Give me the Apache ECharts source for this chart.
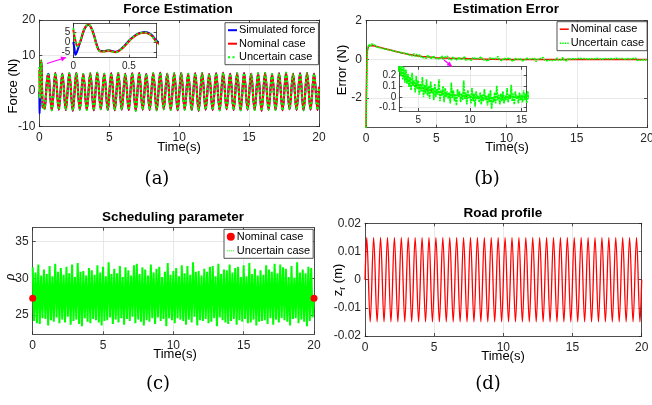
<!DOCTYPE html>
<html><head><meta charset="utf-8">
<script src="https://cdn.jsdelivr.net/npm/echarts@6/dist/echarts.min.js"></script>
<style>html,body{margin:0;padding:0;background:#fff}#c{width:652px;height:405px}</style>
</head><body><div id="c"></div>
<script>
// ---------------- DATA ----------------
// (a) Force estimation: early transient (detailed), seconds
const forceHeadT   = [0, 0.01, 0.02, 0.035, 0.05, 0.07, 0.1, 0.135, 0.16, 0.19, 0.21, 0.24, 0.28, 0.315, 0.35, 0.38, 0.42, 0.47, 0.52, 0.57, 0.61, 0.645, 0.68, 0.71, 0.75];
const forceSimHead = [0, -3, -6.3, -4.5, -2, 1.2, 6.3, 8.5, 7.2, 2.8, -1.2, -4.3, -4.4, -4.0, -4.4, -4.8, -3.8, -1.2, 1.8, 3.8, 4.6, 4.9, 4.4, 3.2, 0.6];
const forceNomHead = [6, 3, 0.5, -1.8, -1.5, 1.5, 6.5, 8.6, 7, 2.5, -1.5, -4.5, -4.6, -4.2, -4.6, -5, -4, -1.5, 1.5, 3.5, 4.4, 4.6, 4, 2.8, 0];
const forceUncHead = [6.8, 3.4, 0.3, -2, -1.4, 1.7, 6.6, 8.7, 7.1, 2.4, -1.6, -4.4, -4.7, -4.1, -4.7, -5.1, -3.9, -1.4, 1.6, 3.6, 4.5, 4.7, 4.1, 2.7, 0.1];
// steady oscillation extremes (troughs / peaks), sampled every half period
const forceSteadyStart = 0.895;
const forceSteadyStep = 0.25;
const forceSteady = [
  -5.4, 5.1, -5.2, 4.9, -5.3, 5.0, -5.5, 5.1, -5.2, 4.8,
  -5.3, 5.0, -5.4, 5.2, -5.1, 4.9, -5.3, 5.0, -5.4, 5.1,
  -5.2, 4.9, -5.3, 5.0, -5.5, 5.1, -5.2, 4.8, -5.3, 5.0,
  -5.4, 5.2, -5.1, 4.9, -5.3, 5.0, -5.4, 5.1, -5.2, 4.9,
  -5.3, 5.0, -5.5, 5.1, -5.2, 4.8, -5.3, 5.0, -5.4, 5.2,
  -5.1, 4.9, -5.3, 5.0, -5.4, 5.1, -5.2, 4.9, -5.3, 5.0,
  -5.5, 5.1, -5.2, 4.8, -5.3, 5.0, -5.4, 5.2, -5.1, 4.9,
  -5.3, 5.0, -5.4, 5.1, -5.2, 4.9, -5.3];
const forceEnd = [20, 1.2];

// (b) Estimation error
const errNomT = [0, 0.02, 0.06, 0.1, 0.2, 0.4, 0.7, 1, 1.5, 2, 2.5, 3, 3.5, 4, 4.5, 5, 6, 7, 8, 9, 10, 11, 12, 13, 14, 15, 16, 17, 18, 19, 20];
const errNom  = [-3.55, -2, 0.1, 0.5, 0.7, 0.72, 0.68, 0.62, 0.52, 0.43, 0.34, 0.27, 0.2, 0.15, 0.12, 0.09, 0.06, 0.04, 0.02, 0.01, 0.0, -0.01, -0.01, -0.005, 0, 0, 0, 0, 0, 0, 0];
const errUncStep = 0.1;
const errUnc = [
  -3.55, 0.45, 0.78, 0.66, 0.8, 0.7, 0.76, 0.65, 0.74, 0.62,
  0.68, 0.58, 0.66, 0.54, 0.62, 0.52, 0.58, 0.48, 0.56, 0.46,
  0.5, 0.41, 0.48, 0.38, 0.45, 0.35, 0.42, 0.32, 0.4, 0.3,
  0.34, 0.23, 0.33, 0.19, 0.3, 0.16, 0.27, 0.13, 0.25, 0.12,
  0.21, 0.09, 0.18, 0.06, 0.22, 0.1, 0.15, 0.04, 0.19, 0.07,
  0.15, 0.02, 0.12, 0.05, 0.18, 0.0, 0.11, 0.03, 0.16, 0.01,
  0.1, -0.02, 0.14, 0.03, 0.08, -0.03, 0.12, 0.0, 0.07, 0.02,
  0.16, -0.04, 0.06, 0.01, 0.1, -0.05, 0.08, 0.0, 0.05, -0.02,
  0.04, -0.06, 0.13, -0.01, 0.06, -0.04, 0.02, -0.08, 0.07, 0.0,
  0.05, -0.05, 0.03, -0.03, 0.15, -0.02, 0.04, -0.07, 0.06, -0.01,
  0.02, -0.06, 0.08, -0.04, 0.03, -0.09, 0.05, -0.02, 0.01, -0.05,
  0.04, -0.07, 0.02, -0.04, 0.07, -0.03, 0.01, -0.08, 0.03, -0.05,
  0.06, -0.11, 0.0, -0.05, 0.04, -0.06, 0.1, -0.03, 0.02, -0.07,
  0.03, -0.04, 0.05, -0.06, 0.01, -0.03, 0.08, -0.05, 0.02, -0.02,
  0.11, -0.04, 0.03, -0.07, 0.05, -0.02, 0.01, -0.06, 0.04, -0.03,
  0.02, -0.05, 0.06, -0.03, 0.03, -0.06, 0.05, -0.02, 0.0, -0.04,
  0.04, -0.03, 0.02, -0.05, 0.06, -0.02, 0.03, -0.06, 0.01, -0.04,
  0.05, -0.04, 0.03, -0.02, 0.04, -0.05, 0.02, -0.03, 0.06, -0.04,
  0.03, -0.05, 0.05, -0.02, 0.01, -0.06, 0.04, -0.03, 0.02, -0.04,
  0.04, -0.03, 0.06, -0.05, 0.02, -0.04, 0.03, -0.02, 0.05, -0.03,
  0.0];

// (c) Scheduling parameter
const rhoNomT = [0, 20];
const rhoNom = [27.3, 27.3];
const rhoUncStep = 0.1;
const rhoUnc = [
  31.5, 24.2, 30.8, 23.9, 31.9, 23.8, 30.4, 24.6, 31.2, 24.5,
  30.6, 23.6, 31.7, 24.3, 30.3, 24.1, 32.0, 24.7, 30.9, 23.9,
  31.4, 24.4, 30.5, 24.0, 31.6, 24.8, 30.7, 23.7, 31.9, 24.2,
  30.2, 24.4, 32.1, 23.8, 30.9, 23.5, 31.0, 24.6, 30.4, 24.1,
  31.4, 23.9, 31.1, 24.5, 30.5, 24.3, 31.8, 24.0, 30.8, 23.6,
  31.6, 24.2, 30.3, 24.3, 32.2, 24.7, 30.6, 23.8, 31.3, 24.4,
  30.7, 24.0, 31.7, 24.6, 30.2, 23.7, 31.5, 24.5, 31.1, 24.2,
  30.4, 24.8, 31.8, 23.9, 32.0, 24.4, 30.6, 24.1, 31.5, 23.6,
  31.2, 24.3, 30.4, 24.1, 31.9, 24.6, 30.8, 23.8, 31.3, 24.7,
  31.6, 24.2, 30.2, 24.5, 30.9, 23.5, 32.1, 24.6, 30.5, 24.3,
  31.0, 23.9, 31.4, 24.6, 30.3, 24.4, 31.8, 24.2, 30.7, 23.7,
  31.7, 24.4, 30.5, 24.0, 32.2, 24.8, 30.9, 23.6, 31.0, 24.3,
  30.4, 24.2, 31.3, 24.5, 30.9, 23.9, 31.6, 24.1, 31.7, 24.6,
  30.3, 23.5, 32.0, 24.7, 30.6, 24.3, 31.2, 24.0, 31.1, 23.8,
  31.9, 24.2, 30.8, 24.5, 31.4, 23.7, 31.6, 24.3, 30.2, 24.1,
  31.8, 24.5, 30.3, 23.9, 32.1, 24.0, 30.6, 24.4, 31.3, 23.6,
  30.4, 24.1, 31.1, 24.2, 30.5, 24.3, 31.8, 23.8, 31.2, 24.6,
  30.9, 23.7, 32.0, 24.4, 30.7, 24.0, 31.9, 24.6, 31.5, 24.3,
  31.3, 24.1, 30.2, 23.6, 31.7, 24.5, 30.1, 24.6, 32.2, 23.9,
  30.8, 24.4, 31.2, 24.1, 30.7, 23.5, 31.6, 24.2, 31.4, 24.7,
  27.3];

// (d) Road profile: start, extremes every quarter-period, end
const roadStart = [0, 0];
const roadPeakStart = 0.125;
const roadPeakStep = 0.25;
const roadPeaks = [
  0.015, -0.015, 0.015, -0.015, 0.015, -0.015, 0.015, -0.015, 0.015, -0.015,
  0.015, -0.015, 0.015, -0.015, 0.015, -0.015, 0.015, -0.015, 0.015, -0.015,
  0.015, -0.015, 0.015, -0.015, 0.015, -0.015, 0.015, -0.015, 0.015, -0.015,
  0.015, -0.015, 0.015, -0.015, 0.015, -0.015, 0.015, -0.015, 0.015, -0.015,
  0.015, -0.015, 0.015, -0.015, 0.015, -0.015, 0.015, -0.015, 0.015, -0.015,
  0.015, -0.015, 0.015, -0.015, 0.015, -0.015, 0.015, -0.015, 0.015, -0.015,
  0.015, -0.015, 0.015, -0.015, 0.015, -0.015, 0.015, -0.015, 0.015, -0.015,
  0.015, -0.015, 0.015, -0.015, 0.015, -0.015, 0.015, -0.015, 0.015, -0.015];
const roadEnd = [20, 0];

// tick values
const yTicksErr = [-2, 0, 2];
const yTicksRho = [25, 30, 35];
const xTicksInsetA = [0, 0.5];
const yTicksInsetA = [-5, 0, 5];
const xTicksInsetB = [5, 10, 15];
const yTicksInsetB = [-0.1, 0, 0.1, 0.2];

// ---------------- BUILD ----------------
const FONT = '"Liberation Sans", Arial, Helvetica, sans-serif';
const AX = '#262626';
const GRIDC = '#e2e2e2';
const RED = '#ff0000', GREEN = '#00ff00', BLUE = '#0000ff';

const grids = [], xAxes = [], yAxes = [], series = [], graphics = [];

function makeAxis(gi, r, pos, labels, fs, margin, z) {
  const a = {
    type: 'value', gridIndex: gi, position: pos, min: r.min, max: r.max, z: z || 0,
    axisLine: {show: true, onZero: false, lineStyle: {color: AX, width: 0.8}},
    axisTick: {show: true, inside: true, length: 3, lineStyle: {color: AX, width: 0.8}},
    axisLabel: {show: labels, color: AX, fontFamily: FONT, fontSize: fs, margin: margin, hideOverlap: false},
    splitLine: {show: labels, lineStyle: {color: GRIDC, width: 0.8}}
  };
  if (r.interval != null) a.interval = r.interval;
  if (r.ticks) { a.axisLabel.customValues = r.ticks; a.axisTick.customValues = r.ticks; }
  return a;
}
function addPanel(rect, xr, yr, o) {
  const gi = grids.length;
  grids.push({left: rect[0], top: rect[1], width: rect[2], height: rect[3], containLabel: false,
    outerBoundsMode: 'none', show: !!o.bg, backgroundColor: '#fff', borderWidth: 0, z: o.z || 0});
  const xi = xAxes.length, yi = yAxes.length;
  xAxes.push(makeAxis(gi, xr, 'bottom', true, o.fs, o.xm, o.az));
  xAxes.push(makeAxis(gi, xr, 'top', false, o.fs, 0, o.az));
  yAxes.push(makeAxis(gi, yr, 'left', true, o.fs, o.ym, o.az));
  yAxes.push(makeAxis(gi, yr, 'right', false, o.fs, 0, o.az));
  return {xi, yi};
}
function addLine(p, name, data, color, width, type, z, extra) {
  series.push(Object.assign({
    type: 'line', name, xAxisIndex: p.xi, yAxisIndex: p.yi, data, symbol: 'none', z: z || 2,
    clip: true, animation: false, silent: true, sampling: null,
    lineStyle: {color, width, type: type || 'solid'}, itemStyle: {color}
  }, extra || {}));
}
const pairs = (ts, vs) => ts.map((t, i) => [t, vs[i]]);
const stepped = (start, step, vs) => vs.map((v, k) => [start + k * step, v]);

// panels
const PA = addPanel([39.3, 20, 279.7, 106.7], {min: 0, max: 20, interval: 5}, {min: -10, max: 20, interval: 10}, {fs: 12, xm: 5, ym: 4});
const PB = addPanel([366, 20.7, 281, 107], {min: 0, max: 20, interval: 5}, {min: -3.53, max: 2, ticks: yTicksErr}, {fs: 12, xm: 5, ym: 4});
const PC = addPanel([32.7, 227.7, 281.3, 106.6], {min: 0, max: 20, interval: 5}, {min: 22.4, max: 36.9, ticks: yTicksRho}, {fs: 12, xm: 5, ym: 4});
const PD = addPanel([365, 223.3, 276.7, 112.7], {min: 0, max: 20, interval: 5}, {min: -0.02, max: 0.02, interval: 0.01}, {fs: 12, xm: 6, ym: 4});
const PAi = addPanel([73.3, 23.3, 83.4, 34.4], {min: 0, max: 0.75, ticks: xTicksInsetA}, {min: -7.7, max: 9.2, ticks: yTicksInsetA}, {fs: 10, xm: 4, ym: 3, bg: true, z: 5, az: 6});
const PBi = addPanel([399.3, 66.7, 127.4, 44.3], {min: 3.16, max: 15.5, ticks: xTicksInsetB}, {min: -0.13, max: 0.276, ticks: yTicksInsetB}, {fs: 10, xm: 4, ym: 3, bg: true, z: 5, az: 6});

// (a)
const steadyPts = stepped(forceSteadyStart, forceSteadyStep, forceSteady);
const simA = pairs(forceHeadT, forceSimHead).concat(steadyPts, [forceEnd]);
const nomA = pairs(forceHeadT, forceNomHead).concat(steadyPts, [forceEnd]);
const uncA = pairs(forceHeadT, forceUncHead).concat(steadyPts, [forceEnd]);
addLine(PA, 'Simulated force', simA, BLUE, 2, 'solid', 2, {smooth: 0.4});
addLine(PA, 'Nominal case', nomA, RED, 2, 'solid', 2, {smooth: 0.4});
addLine(PA, 'Uncertain case', uncA, GREEN, 2, [2, 2.5], 2, {smooth: 0.4});
addLine(PAi, 'Simulated force', simA, BLUE, 2, 'solid', 7, {smooth: 0.4});
addLine(PAi, 'Nominal case', nomA, RED, 2, 'solid', 7, {smooth: 0.4});
addLine(PAi, 'Uncertain case', uncA, GREEN, 2, [2, 2.5], 7, {smooth: 0.4});

// (b)
const nomB = pairs(errNomT, errNom);
const uncB = stepped(0, errUncStep, errUnc);
addLine(PB, 'Nominal case', nomB, RED, 1.5, 'solid', 2);
addLine(PB, 'Uncertain case', uncB, GREEN, 1.6, [2, 0.8], 2);
addLine(PBi, 'Nominal case', nomB, RED, 1.5, [2, 2], 7);
addLine(PBi, 'Uncertain case', uncB, GREEN, 1.6, [2.5, 0.6], 7);

// (c)
addLine(PC, 'Uncertain case', stepped(0, rhoUncStep, rhoUnc), GREEN, 2, 'solid', 2);
addLine(PC, 'Nominal case', pairs(rhoNomT, rhoNom), RED, 0, 'solid', 3,
  {symbol: 'circle', symbolSize: 7, showSymbol: true, lineStyle: {width: 0, opacity: 0, color: RED}, itemStyle: {color: RED}});

// (d)
const roadPts = [roadStart].concat(stepped(roadPeakStart, roadPeakStep, roadPeaks), [roadEnd]);
addLine(PD, 'Road', roadPts, RED, 1.3, 'solid', 2, {smooth: 0.35});

// text helpers
function txt(x, y, text, font, rot, extra) {
  graphics.push({type: 'text', x, y, rotation: rot || 0, z: 100, silent: true,
    style: Object.assign({text, font, fill: '#000', align: 'center', verticalAlign: 'middle',
      textAlign: 'center', textVerticalAlign: 'middle'}, extra || {})});
}
function arrow(x1, y1, x2, y2) {
  graphics.push({type: 'line', z: 100, silent: true, shape: {x1, y1, x2, y2}, style: {stroke: '#ff00ff', lineWidth: 1.2}});
  const ang = Math.atan2(y2 - y1, x2 - x1), L = 5, W = 2.5;
  const bx = x2 - L * Math.cos(ang), by = y2 - L * Math.sin(ang);
  graphics.push({type: 'polygon', z: 100, silent: true, shape: {points: [[x2, y2],
    [bx - W * Math.sin(ang), by + W * Math.cos(ang)], [bx + W * Math.sin(ang), by - W * Math.cos(ang)]]},
    style: {fill: '#ff00ff'}});
}
const TF = 'bold 13.5px ' + FONT;
const LF = '13px ' + FONT;
const CF = '18px "DejaVu Serif", "Liberation Serif", serif';
txt(178, 9.5, 'Force Estimation', TF);
txt(506, 9.5, 'Estimation Error', TF);
txt(173, 217.5, 'Scheduling parameter', TF);
txt(503, 213.5, 'Road profile', TF);
txt(179, 147, 'Time(s)', LF);
txt(507, 147, 'Time(s)', LF);
txt(175, 354, 'Time(s)', LF);
txt(503, 356.5, 'Time(s)', LF);
txt(13, 86, 'Force (N)', LF, Math.PI / 2);
txt(342, 70, 'Error (N)', LF, Math.PI / 2);
txt(10, 277, 'ρ', 'italic 14px "Liberation Serif", serif', Math.PI / 2);
graphics.push({type: 'text', x: 338, y: 280, rotation: Math.PI / 2, z: 100, silent: true,
  style: {text: '{z|z}{r|r}{t| (m)}', align: 'center', verticalAlign: 'middle', textAlign: 'center', textVerticalAlign: 'middle',
    rich: {
      z: {fontFamily: FONT, fontSize: 13, fill: '#000', lineHeight: 18, verticalAlign: 'middle'},
      r: {fontFamily: FONT, fontSize: 9, fill: '#000', lineHeight: 18, verticalAlign: 'bottom'},
      t: {fontFamily: FONT, fontSize: 13, fill: '#000', lineHeight: 18, verticalAlign: 'middle'}
    }}});
txt(157, 179, '(a)', CF);
txt(487, 179, '(b)', CF);
txt(158, 384, '(c)', CF);
txt(488, 384, '(d)', CF);
arrow(47, 63.5, 66, 57.5);
arrow(444, 60, 452, 66.5);

const legendBase = {orient: 'vertical', selectedMode: false, itemWidth: 9, itemHeight: 11,
  borderColor: AX, borderWidth: 0.8, backgroundColor: '#fff', borderRadius: 0,
  itemStyle: {opacity: 0},
  textStyle: {fontFamily: FONT, fontSize: 11, color: '#000', padding: [0, 0, 0, -3]}};
const legends = [
  Object.assign({}, legendBase, {left: 225, top: 22.7, itemGap: 2.5, padding: [2, 3, 2, 2],
    data: ['Simulated force', 'Nominal case', 'Uncertain case']}),
  Object.assign({}, legendBase, {left: 557, top: 21.7, itemGap: 3, itemHeight: 12, padding: [2, 3, 2, 2],
    data: [{name: 'Nominal case', lineStyle: {width: 1.5}}, {name: 'Uncertain case', lineStyle: {width: 1.5, type: [1.5, 1]}}]}),
  Object.assign({}, legendBase, {left: 224, top: 229.3, itemGap: 3, itemHeight: 12, itemWidth: 8, padding: [2, 3, 2, 2],
    data: [{name: 'Nominal case', icon: 'circle', itemStyle: {color: RED, opacity: 1}},
           {name: 'Uncertain case', lineStyle: {width: 1, type: [1, 1]}}]})
];

const chart = echarts.init(document.getElementById('c'), null, {renderer: 'canvas'});
chart.setOption({
  backgroundColor: '#fff', animation: false,
  grid: grids, xAxis: xAxes, yAxis: yAxes, series, legend: legends, graphic: graphics
});
</script></body></html>
